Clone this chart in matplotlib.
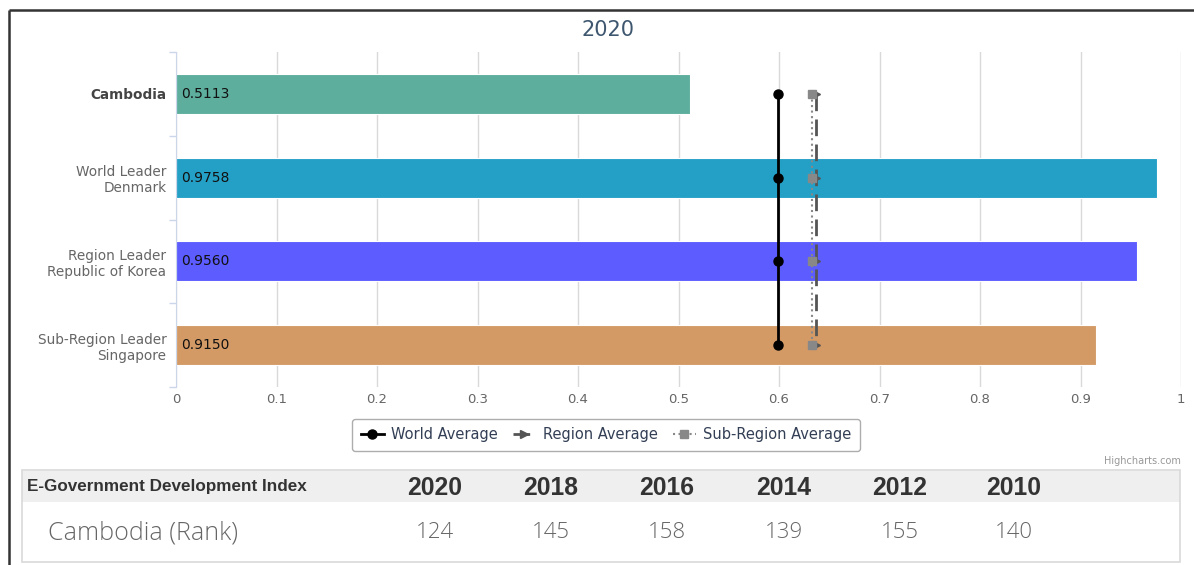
import matplotlib
matplotlib.use("Agg")
import matplotlib.pyplot as plt
from matplotlib.lines import Line2D
from matplotlib.patches import Rectangle

# ---- values ----
categories = ["Cambodia", "World Leader\nDenmark", "Region Leader\nRepublic of Korea",
              "Sub-Region Leader\nSingapore"]
egdi_values = [0.5113, 0.9758, 0.9560, 0.9150]
bar_colors = ["#5dae9d", "#24a0c6", "#5c5cff", "#d49a66"]

world_avg = [0.5988, 0.5988, 0.5988, 0.5988]
region_avg = [0.6373, 0.6373, 0.6373, 0.6373]
subregion_avg = [0.6330, 0.6330, 0.6330, 0.6330]

x_ticks = [0, 0.1, 0.2, 0.3, 0.4, 0.5, 0.6, 0.7, 0.8, 0.9, 1]
x_tick_labels = ["0", "0.1", "0.2", "0.3", "0.4", "0.5", "0.6", "0.7", "0.8", "0.9", "1"]

chart_title = "2020"
table_title = "E-Government Development Index"
table_years = ["2020", "2018", "2016", "2014", "2012", "2010"]
table_row_label = "Cambodia (Rank)"
table_ranks = [124, 145, 158, 139, 155, 140]

W, H = 1194, 565
TITLE_COLOR = "#3e576f"
LEGEND_COLOR = "#333f55"
LABEL_COLOR = "#666666"
AXIS_COLOR = "#ccd6eb"
GRID_COLOR = "#d9d9d9"


def fx(x):
    return x / W


def fy(y):
    return 1 - y / H


fig = plt.figure(figsize=(W / 100, H / 100), dpi=100)

# outer frame (top and left edges)
fig.add_artist(Line2D([fx(9), fx(W)], [fy(10), fy(10)], color="#333333", lw=1.8,
                      solid_capstyle="butt"))
fig.add_artist(Line2D([fx(9), fx(9)], [fy(10), fy(H)], color="#333333", lw=1.8,
                      solid_capstyle="butt"))

ax = fig.add_axes([fx(176), fy(387), fx(1181) - fx(176), (387 - 52) / H])

pos = list(range(len(categories)))
ax.barh(pos, egdi_values, height=0.48, color=bar_colors, edgecolor="white",
        linewidth=0.8, zorder=2)
for p, v in zip(pos, egdi_values):
    ax.annotate(f"{v:.4f}", xy=(0, p), xytext=(3.5, 0), textcoords="offset points",
                va="center", ha="left", fontsize=10, color="#111111", zorder=5)

ax.plot(world_avg, pos, color="black", lw=2, marker="o", markersize=6.5,
        zorder=4, label="World Average")
ax.plot(region_avg, pos, color="#555555", lw=2, dashes=(6, 3), marker=">",
        markersize=5.5, zorder=4, label="Region Average")
ax.plot(subregion_avg, pos, color="#888888", lw=1.5, linestyle=":", marker="s",
        markersize=6, zorder=4, label="Sub-Region Average")

ax.set_xlim(0, 1)
ax.set_ylim(len(categories) - 0.5, -0.5)
ax.set_xticks(x_ticks)
ax.set_xticklabels(x_tick_labels)
ax.tick_params(axis="x", length=0, pad=4, labelsize=9.5, labelcolor=LABEL_COLOR)
ax.grid(axis="x", color=GRID_COLOR, lw=1, zorder=0)
ax.set_axisbelow(True)

# category boundaries carry the ticks, labels sit at the centres
ax.set_yticks([p - 0.5 for p in pos] + [pos[-1] + 0.5])
ax.set_yticklabels([])
ax.tick_params(axis="y", which="major", length=5, color=AXIS_COLOR, width=1)
ax.set_yticks(pos, minor=True)
ax.set_yticklabels(categories, minor=True)
ax.tick_params(axis="y", which="minor", length=0, pad=7, labelsize=9.8,
               labelcolor=LABEL_COLOR)
for lbl in ax.get_yticklabels(minor=True):
    lbl.set_multialignment("right")
ax.get_yticklabels(minor=True)[0].set_fontweight("bold")
ax.get_yticklabels(minor=True)[0].set_color("#444444")

for side in ["top", "right", "bottom"]:
    ax.spines[side].set_visible(False)
ax.spines["left"].set_color(AXIS_COLOR)

fig.text(fx(608), fy(30), chart_title, ha="center", va="center", fontsize=15,
         color=TITLE_COLOR)

handles, labels = ax.get_legend_handles_labels()
leg = fig.legend(handles, labels, loc="center", bbox_to_anchor=(fx(606), fy(435)),
                 ncol=3, fontsize=10.5, frameon=True, fancybox=True, edgecolor="#999999",
                 handlelength=1.6, handletextpad=0.5, columnspacing=1.0,
                 borderpad=0.6, labelcolor=LEGEND_COLOR)
leg.get_frame().set_linewidth(1)

fig.text(fx(1181), fy(461), "Highcharts.com", ha="right", va="center", fontsize=7,
         color="#999999")

# ---- rank table ----
fig.add_artist(Rectangle((fx(22), fy(502)), fx(1180) - fx(22), (502 - 471) / H,
                         facecolor="#efefef", edgecolor="none"))
fig.add_artist(Rectangle((fx(22), fy(562)), fx(1180) - fx(22), (562 - 470) / H,
                         facecolor="none", edgecolor="#d9d9d9", lw=1.2))
fig.text(fx(27), fy(487), table_title, ha="left", va="center", fontsize=12.3,
         fontweight="bold", family="Liberation Sans", color="#333333")
fig.text(fx(48), fy(533), table_row_label, ha="left", va="center", fontsize=18,
         family="Open Sans", fontweight="light", color="#666666")
col_x = [435, 551, 667, 784, 900, 1014]
for cx, yr, rk in zip(col_x, table_years, table_ranks):
    fig.text(fx(cx), fy(488), yr, ha="center", va="center", fontsize=17.8,
             fontweight="bold", family="Liberation Sans", color="#333333")
    fig.text(fx(cx), fy(533), str(rk), ha="center", va="center", fontsize=16,
             family="Open Sans", fontweight="light", color="#666666")

fig.savefig("out.png", dpi=100)
